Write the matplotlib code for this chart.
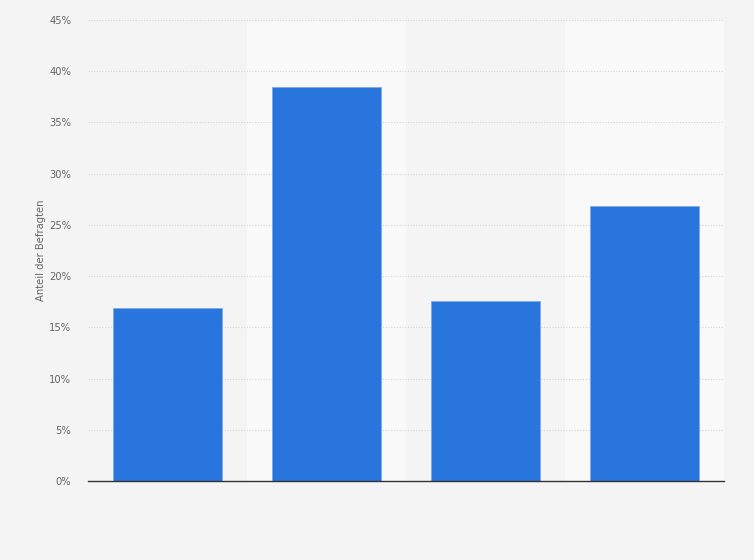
# import libraries
import matplotlib.pyplot as plt

# data (category labels are not shown in the chart)
categories = ["", "", "", ""]
shares = [16.9, 38.5, 17.6, 26.8]
y_ticks = [0, 5, 10, 15, 20, 25, 30, 35, 40, 45]

fig = plt.figure(figsize=(7.54, 5.6), dpi=100, facecolor="#f4f4f4")
ax = fig.add_axes([88 / 754, 79 / 560, 636 / 754, 461 / 560])
ax.set_facecolor("#f4f4f4")

x = list(range(len(categories)))

# alternating column bands
for i in x:
    if i % 2 == 1:
        ax.axvspan(i - 0.5, i + 0.5, color="#f9f9f9", zorder=0, lw=0)

# grid lines
for t in y_ticks[1:]:
    ax.axhline(t, color="#d4d4d4", lw=0.8, ls=(0, (1, 1.5)), zorder=1)

ax.bar(x, shares, width=0.686, color="#2876dd", edgecolor="#7fa9e6",
       linewidth=0.6, zorder=2)

ax.set_xlim(-0.5, len(categories) - 0.5)
ax.set_ylim(0, 45)
ax.set_xticks(x)
ax.set_xticklabels(categories)
ax.set_yticks(y_ticks)
ax.set_yticklabels([f"{t}%" for t in y_ticks], fontsize=7.2, color="#666666")
ax.tick_params(axis="both", length=0)
ax.tick_params(axis="y", pad=12)

for side in ["top", "right", "left"]:
    ax.spines[side].set_visible(False)
ax.spines["bottom"].set_color("#333333")
ax.spines["bottom"].set_linewidth(1.0)
ax.spines["bottom"].set_zorder(3)

ax.set_ylabel("Anteil der Befragten", fontsize=7.2, color="#666666", labelpad=2)

plt.savefig("out.png", dpi=100, facecolor=fig.get_facecolor())
